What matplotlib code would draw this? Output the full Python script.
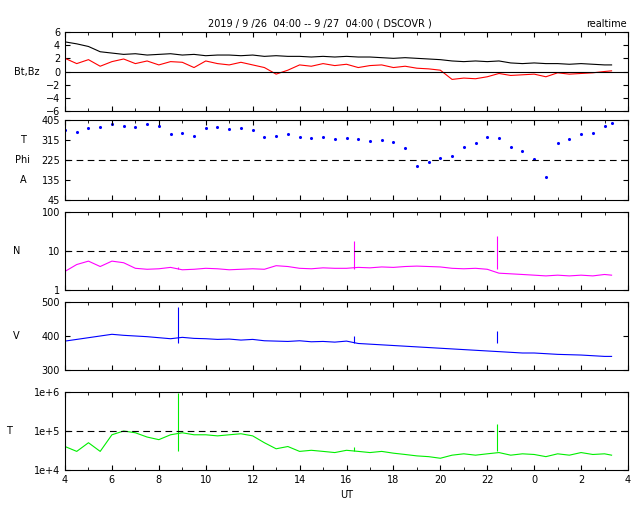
import matplotlib
matplotlib.use("Agg")
import matplotlib.pyplot as plt
import numpy as np

t = [4.0,4.5,5.0,5.5,6.0,6.5,7.0,7.5,8.0,8.5,9.0,9.5,10.0,10.5,11.0,11.5,12.0,12.5,13.0,13.5,14.0,14.5,15.0,15.5,16.0,16.5,17.0,17.5,18.0,18.5,19.0,19.5,20.0,20.5,21.0,21.5,22.0,22.5,23.0,23.5,24.0,24.5,25.0,25.5,26.0,26.5,27.0,27.3]
bt = [4.5,4.2,3.8,3.0,2.8,2.6,2.7,2.5,2.6,2.7,2.5,2.6,2.4,2.5,2.5,2.4,2.5,2.3,2.4,2.3,2.3,2.2,2.3,2.2,2.3,2.2,2.2,2.1,2.0,2.1,2.0,1.9,1.8,1.6,1.5,1.6,1.5,1.6,1.3,1.2,1.3,1.2,1.2,1.1,1.2,1.1,1.0,1.0]
bz = [2.0,1.2,1.8,0.8,1.5,1.9,1.2,1.6,1.0,1.5,1.4,0.6,1.6,1.2,1.0,1.4,1.0,0.6,-0.4,0.2,1.0,0.8,1.2,0.9,1.1,0.6,0.9,1.0,0.6,0.8,0.5,0.4,0.2,-1.2,-1.0,-1.1,-0.8,-0.3,-0.6,-0.5,-0.4,-0.8,-0.2,-0.4,-0.3,-0.2,0.0,0.1]
phi = [360,350,370,375,385,380,375,385,380,340,345,335,370,375,365,370,360,330,335,340,330,325,330,320,325,320,310,315,305,280,200,215,235,245,285,300,330,325,285,265,230,150,300,320,340,345,380,390]
n = [3.0,4.5,5.5,4.0,5.5,5.0,3.6,3.4,3.5,3.8,3.3,3.4,3.6,3.5,3.3,3.4,3.5,3.4,4.2,4.0,3.6,3.5,3.7,3.6,3.6,3.8,3.7,3.9,3.8,4.0,4.1,4.0,3.9,3.6,3.5,3.6,3.4,2.7,2.6,2.5,2.4,2.3,2.4,2.3,2.4,2.3,2.5,2.4]
v = [385,390,395,400,405,402,400,398,395,392,396,393,392,390,391,388,390,386,385,384,386,383,384,382,385,378,376,374,372,370,368,366,364,362,360,358,356,354,352,350,350,348,346,345,344,342,340,340]
temp = [4e4,3e4,5e4,3e4,8e4,1e5,9e4,7e4,6e4,8e4,9e4,8e4,8e4,7.5e4,8e4,8.5e4,7.5e4,5e4,3.5e4,4e4,3e4,3.2e4,3e4,2.8e4,3.2e4,3e4,2.8e4,3e4,2.7e4,2.5e4,2.3e4,2.2e4,2.0e4,2.4e4,2.6e4,2.4e4,2.6e4,2.8e4,2.4e4,2.6e4,2.5e4,2.2e4,2.6e4,2.4e4,2.8e4,2.5e4,2.6e4,2.4e4]
spike_t = [8.8,16.3,22.4]
n_spike = [4.0,18.0,24.0]
v_spike = [485,400,415]
temp_spike = [9.5e5,4e4,1.5e5]

plt.rcParams['font.family'] = ['DejaVu Sans']
plt.rcParams['font.size'] = 7
fig = plt.figure(figsize=(6.4,5.12), dpi=100)
W,H = 640,512
def ax_at(y0,y1):
    return fig.add_axes([65/W, 1-y1/H, (628-65)/W, (y1-y0)/H])

axes = [ax_at(32,111), ax_at(120,200), ax_at(212,290), ax_at(302,370), ax_at(392,470)]
for a in axes:
    a.set_xlim(4,28)
    a.set_xticks(range(4,29,2))
    a.set_xticks(range(4,29), minor=True)
    a.tick_params(direction='in', which='both', top=True, right=True, labelsize=7)
    a.set_xticklabels([])

a = axes[0]
a.plot(t, bt, color='black', lw=0.8)
a.plot(t, bz, color='red', lw=0.8)
a.axhline(0, color='black', lw=0.8)
a.set_ylim(-6,6); a.set_yticks(range(-6,7,2))
a.set_ylabel('Bt,Bz', rotation=0, labelpad=14, va='center')

a = axes[1]
a.scatter(t, phi, s=1.5, color='blue')
a.axhline(225, color='black', lw=0.8, ls=(0,(6,4)))
a.set_ylim(45,405); a.set_yticks([45,135,225,315,405])
for y,s in [(315,'T'),(225,'Phi'),(135,'A')]:
    a.text(-0.075, (y-45)/360, s, transform=a.transAxes, ha='center', va='center')

a = axes[2]
a.plot(t, n, color='magenta', lw=0.8)
a.vlines(spike_t, 3.5, n_spike, color='magenta', lw=0.8)
a.set_yscale('log'); a.set_ylim(1,100)
a.set_yticks([1,10,100]); a.set_yticklabels(['1','10','100'])
a.axhline(10, color='black', lw=0.8, ls=(0,(6,4)))
a.set_ylabel('N', rotation=0, labelpad=18, va='center')

a = axes[3]
a.plot(t, v, color='blue', lw=0.8)
a.vlines(spike_t, 380, v_spike, color='blue', lw=0.8)
a.set_ylim(300,500); a.set_yticks([300,400,500])
a.set_ylabel('V', rotation=0, labelpad=18, va='center')

a = axes[4]
a.plot(t, temp, color='#00ee00', lw=0.8)
a.vlines(spike_t, 3e4, temp_spike, color='#00ee00', lw=0.8)
a.set_yscale('log'); a.set_ylim(1e4,1e6)
a.set_yticks([1e4,1e5,1e6]); a.set_yticklabels(['1e+4','1e+5','1e+6'])
a.minorticks_off()
a.set_xticks(range(4,29), minor=True)
a.axhline(1e5, color='black', lw=0.8, ls=(0,(6,4)))
a.set_ylabel('T', rotation=0, labelpad=18, va='center')
a.set_xticklabels(['4','6','8','10','12','14','16','18','20','22','0','2','4'])
a.set_xlabel('UT')
for ax in axes[2:5:2]:
    ax.minorticks_off(); ax.set_xticks(range(4,29), minor=True)

fig.text(0.5, 1-24/H, '2019 / 9 /26  04:00 -- 9 /27  04:00 ( DSCOVR )', ha='center', va='center')
fig.text(0.98, 1-24/H, 'realtime', ha='right', va='center')
fig.savefig('out.png', dpi=100)
